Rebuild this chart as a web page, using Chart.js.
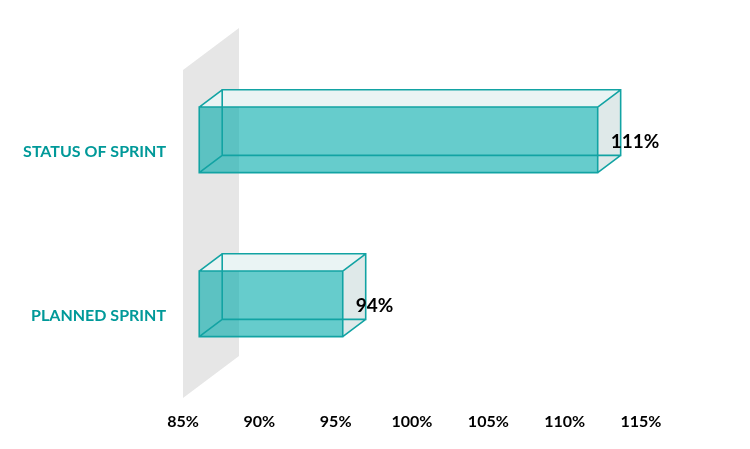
<!DOCTYPE html>
<html>
<head>
<meta charset="utf-8">
<script src="https://cdn.jsdelivr.net/npm/chart.js@4/dist/chart.umd.min.js"></script>
<style>
html,body{margin:0;padding:0;background:#fff;}
#wrap{width:750px;height:449px;position:relative;}
</style>
</head>
<body>
<div id="wrap"><canvas id="c" width="750" height="449"></canvas></div>
<script>
const categories = ['STATUS OF SPRINT', 'PLANNED SPRINT'];
const values = [111.1, 94.4];
const valueLabels = ['111%', '94%'];
const axisMin = 85, axisMax = 115, axisStep = 5;

const TEAL = '#009999';
const FONT = 'Lato, "Open Sans", sans-serif';

const wallDepth = {dx: 56, dy: -42};
const frontFrac = 0.29, backFrac = 0.70;

const box3d = {
  id: 'box3d',
  beforeDatasetsDraw(chart) {
    const {ctx, chartArea: a} = chart;
    ctx.save();
    ctx.fillStyle = '#E6E6E6';
    ctx.beginPath();
    ctx.moveTo(a.left, a.top);
    ctx.lineTo(a.left + wallDepth.dx, a.top + wallDepth.dy);
    ctx.lineTo(a.left + wallDepth.dx, a.bottom + wallDepth.dy);
    ctx.lineTo(a.left, a.bottom);
    ctx.closePath();
    ctx.fill();
    ctx.restore();
  },
  afterDatasetsDraw(chart) {
    const {ctx} = chart;
    const xs = chart.scales.x;
    const meta = chart.getDatasetMeta(0);
    const fx = wallDepth.dx * frontFrac, fy = wallDepth.dy * frontFrac;
    const bx = wallDepth.dx * backFrac, by = wallDepth.dy * backFrac;
    meta.data.forEach((el, i) => {
      const p = el.getProps(['x', 'y', 'height'], true);
      const x0 = xs.getPixelForValue(axisMin), x1 = p.x, y0 = p.y - p.height / 2, y1 = p.y + p.height / 2;
      const F = {l: x0 + fx, r: x1 + fx, t: y0 + fy, b: y1 + fy};
      const B = {l: x0 + bx, r: x1 + bx, t: y0 + by, b: y1 + by};
      ctx.save();
      ctx.fillStyle = '#EAF4F4';
      ctx.beginPath();
      ctx.moveTo(F.l, F.t); ctx.lineTo(B.l, B.t); ctx.lineTo(B.r, B.t); ctx.lineTo(F.r, F.t);
      ctx.closePath(); ctx.fill();
      ctx.fillStyle = '#DFE9E9';
      ctx.beginPath();
      ctx.moveTo(F.r, F.t); ctx.lineTo(B.r, B.t); ctx.lineTo(B.r, B.b); ctx.lineTo(F.r, F.b);
      ctx.closePath(); ctx.fill();
      ctx.fillStyle = 'rgba(0,170,170,0.6)';
      ctx.fillRect(F.l, F.t, F.r - F.l, F.b - F.t);
      ctx.strokeStyle = '#12A3A3';
      ctx.lineWidth = 1.6;
      ctx.beginPath();
      ctx.rect(B.l, B.t, B.r - B.l, B.b - B.t);
      ctx.rect(F.l, F.t, F.r - F.l, F.b - F.t);
      ctx.moveTo(F.l, F.t); ctx.lineTo(B.l, B.t);
      ctx.moveTo(F.r, F.t); ctx.lineTo(B.r, B.t);
      ctx.moveTo(F.r, F.b); ctx.lineTo(B.r, B.b);
      ctx.moveTo(F.l, F.b); ctx.lineTo(B.l, B.b);
      ctx.stroke();
      ctx.fillStyle = '#000';
      ctx.font = 'bold 19px ' + FONT;
      ctx.textAlign = 'left';
      ctx.textBaseline = 'middle';
      ctx.fillText(valueLabels[i], F.r + 13, (F.t + F.b) / 2 + 2);
      ctx.restore();
    });
  }
};

new Chart(document.getElementById('c'), {
  type: 'bar',
  data: {
    labels: categories,
    datasets: [{
      data: values,
      backgroundColor: 'rgba(0,0,0,0)',
      borderWidth: 0,
      categoryPercentage: 0.5,
      barPercentage: 0.8
    }]
  },
  options: {
    indexAxis: 'y',
    responsive: false,
    animation: false,
    events: [],
    layout: {padding: {left: 0, right: 109, top: 70, bottom: 0}},
    plugins: {legend: {display: false}, tooltip: {enabled: false}},
    scales: {
      x: {
        min: axisMin, max: axisMax,
        grid: {display: false, drawTicks: false},
        border: {display: false},
        ticks: {
          stepSize: axisStep,
          color: '#000',
          font: {family: FONT, size: 16, weight: 'bold'},
          padding: 14,
          callback: v => v + '%'
        },
        afterFit(s) { s.height = 51; }
      },
      y: {
        grid: {display: false, drawTicks: false},
        border: {display: false},
        ticks: {
          color: TEAL,
          font: {family: FONT, size: 16, weight: 'bold'},
          padding: 17
        },
        afterFit(s) { s.width = 183; }
      }
    }
  },
  plugins: [box3d]
});
</script>
</body>
</html>
